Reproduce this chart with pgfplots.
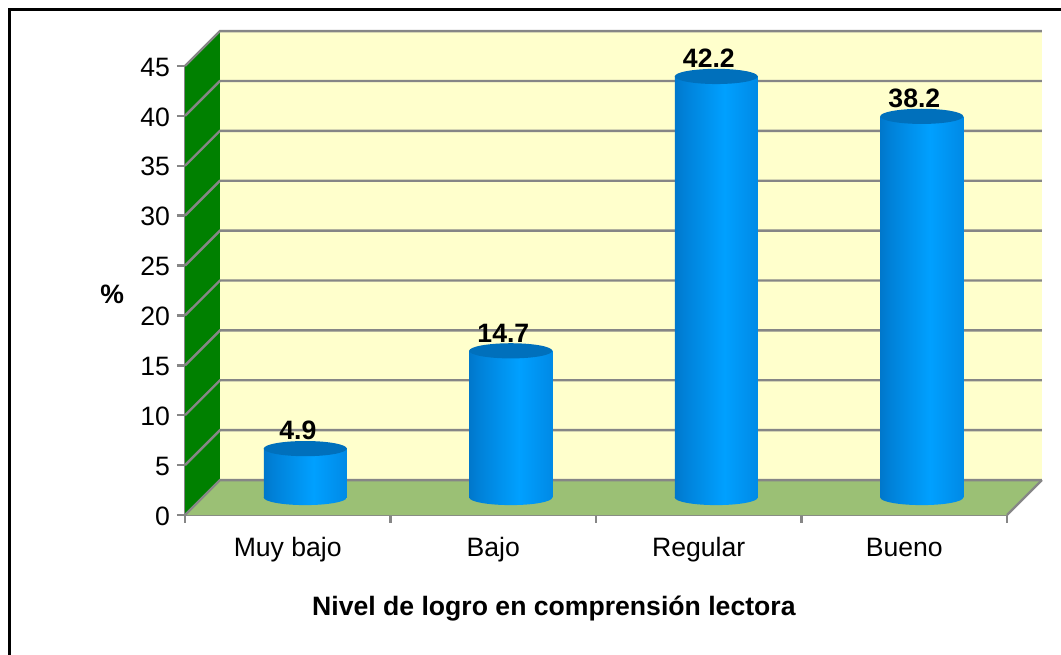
\documentclass[border=0pt]{standalone}
\usepackage{pgfplots}
\usepackage{pgfplotstable}
\pgfplotsset{compat=1.18}
\usepackage{fontspec}
\setmainfont{Liberation Sans}
\usetikzlibrary{shapes.geometric}
\definecolor{gridg}{RGB}{134,134,134}
\definecolor{wallc}{RGB}{255,255,204}
\definecolor{floorc}{RGB}{155,192,117}
\definecolor{sidec}{RGB}{0,128,0}
\definecolor{c0}{RGB}{0,78,140}
\definecolor{c1}{RGB}{0,98,172}
\definecolor{c2}{RGB}{0,128,215}
\definecolor{c3}{RGB}{0,160,255}
\definecolor{c4}{RGB}{0,138,230}
\definecolor{c5}{RGB}{0,108,185}
\definecolor{c6}{RGB}{0,88,150}
\pgfdeclarehorizontalshading{cyl}{100bp}{
 color(0bp)=(c0);
 color(12bp)=(c1);
 color(30bp)=(c2);
 color(55bp)=(c3);
 color(75bp)=(c4);
 color(90bp)=(c5);
 color(100bp)=(c6)}
\definecolor{tcol}{RGB}{0,112,188}
\pgfdeclareplotmark{cyltop}{%
  \pgfpathellipse{\pgfpointorigin}{\pgfpoint{20.75pt}{0pt}}{\pgfpoint{0pt}{3.8pt}}%
  \pgfsetfillcolor{tcol}\pgfusepathqfill}
\pgfplotstableread{
x val zero
0 4.9 0
1 14.7 0
2 42.2 0
3 38.2 0
}\logro
\newcommand{\lab}{\fontsize{13.3pt}{15pt}\selectfont}
\begin{document}
\begin{tikzpicture}
\path[use as bounding box] (0,0) rectangle (530.5pt,327pt);
\draw[black,line width=1.5pt] (4.75pt,-3pt) -- (4.75pt,322.25pt) -- (534pt,322.25pt);
\begin{axis}[at={(92.5pt,69.5pt)},anchor=south west,
  scale only axis,width=411pt,height=224.5pt,
  xmin=0,xmax=4,ymin=0,ymax=45,clip=false,
  axis x line*=bottom,axis y line*=left,
  axis line style={gridg,line width=1.2pt,-},
  xtick={0,1,2,3,4},xticklabels={},
  ytick={0,5,...,45},
  major tick style={gridg,line width=1.2pt},
  tick align=outside,major tick length=4pt,
  tick label style={font=\lab,text=black,yshift=-0.5pt},
  /pgf/number format/assume math mode=true,
  ylabel={\textbf{\%}},
  ylabel style={rotate=-90,font=\lab,at={(axis description cs:-0.0885,0.491)},anchor=center},
]
% side wall, back wall, floor (oblique depth: 35 px right, 35 px up)
\fill[wallc] (axis cs:0.17,3.5) rectangle (axis cs:4.17,48.5);
\fill[sidec] (axis cs:0,0) -- (axis cs:0.17,3.5) -- (axis cs:0.17,48.5) -- (axis cs:0,45) -- cycle;
\fill[floorc] (axis cs:0,0) -- (axis cs:0.17,3.5) -- (axis cs:4.17,3.5) -- (axis cs:4,0) -- cycle;
\pgfplotsinvokeforeach{0,5,...,45}{
  \draw[gridg,line width=1.2pt] (axis cs:0,#1) -- (axis cs:0.17,#1+3.5) -- (axis cs:4.17,#1+3.5);
}
\draw[gridg,line width=1.2pt] (axis cs:4,0) -- (axis cs:4.17,3.5);
\node[font=\lab,anchor=base] at (axis cs:0.5,-4.2) {Muy bajo};
\node[font=\lab,anchor=base] at (axis cs:1.5,-4.2) {Bajo};
\node[font=\lab,anchor=base] at (axis cs:2.5,-4.2) {Regular};
\node[font=\lab,anchor=base] at (axis cs:3.5,-4.2) {Bueno};
\node[font=\bfseries\lab] at (axis cs:1.795,-9.35) {Nivel de logro en comprensión lectora};
\end{axis}
% bars stand in the middle of the floor: same scales, shifted by half the depth
\begin{axis}[at={(101.25pt,78.25pt)},anchor=south west,
  scale only axis,width=411pt,height=224.5pt,
  xmin=-0.5,xmax=3.5,ymin=0,ymax=45,clip=false,
  axis lines=none,
  ybar,bar width=41.5pt,bar shift=0pt,
]
\addplot[draw=none,shade,shading=cyl,bar shift=0pt,forget plot] coordinates {(0,4.9)};
\addplot[draw=none,shade,shading=cyl,bar shift=0pt,forget plot] coordinates {(1,14.7)};
\addplot[draw=none,shade,shading=cyl,bar shift=0pt,forget plot] coordinates {(2,42.2)};
\addplot[draw=none,shade,shading=cyl,bar shift=0pt,forget plot] coordinates {(3,38.2)};
\end{axis}
\begin{axis}[at={(101.25pt,78.25pt)},anchor=south west,
  scale only axis,width=411pt,height=224.5pt,
  xmin=-0.5,xmax=3.5,ymin=0,ymax=45,clip=false,
  axis lines=none,
]
% rounded foot of each cylinder
\addplot[only marks,mark=none,
  nodes near coords={},
  every node near coord/.style={shape=ellipse,shade,shading=cyl,draw=none,inner sep=0pt,
    minimum width=41.5pt,minimum height=7.6pt,anchor=center},
 ] table[x=x,y=zero]{\logro};
\addplot[only marks,mark=cyltop,
  nodes near coords,
  every node near coord/.append style={font=\bfseries\lab,text=black,anchor=south,xshift=-3.7pt,yshift=0.8pt},
  /pgf/number format/fixed,/pgf/number format/precision=1,/pgf/number format/fixed zerofill,/pgf/number format/assume math mode=true,
 ] table[x=x,y=val]{\logro};
\end{axis}
\end{tikzpicture}
\end{document}
